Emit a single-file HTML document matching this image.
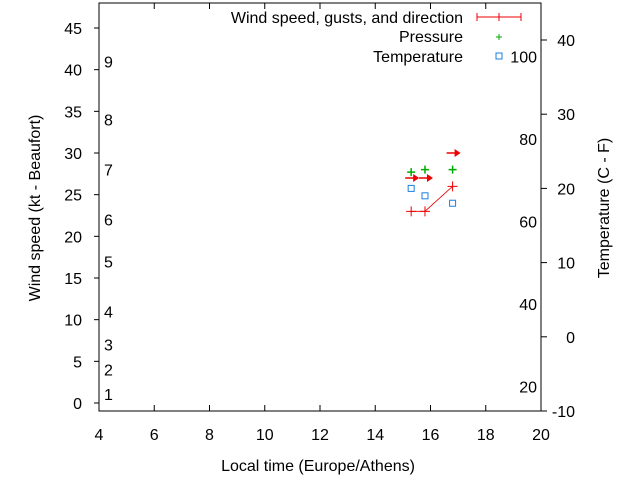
<!DOCTYPE html>
<html><head><meta charset="utf-8"><style>
body{margin:0;background:#fff}
svg{display:block;font-family:"Liberation Sans",sans-serif;font-size:16px}
</style></head><body>
<svg id="c" width="640" height="480" xmlns="http://www.w3.org/2000/svg"></svg>
<script>
const xTicks=[4,6,8,10,12,14,16,18,20];
const windTicks=[0,5,10,15,20,25,30,35,40,45];
const tempTicks=[-10,0,10,20,30,40];
const fLabels=[20,40,60,80,100];
const beaufortLabels=["1","2","3","4","5","6","7","8","9"];
const beaufortVals=[1.1,4,7,11,17,22,28,34,41];
const times=[15.3,15.8,16.8];
const windSpeed=[23,23,26];
const gusts=[27.7,28,28];
const dirSpeed=[27,27,30];
const temps=[20,19,18];

const L=99,R=541,T=3,B=411;
const X=t=>L+(t-4)*(R-L)/16;
const Y=w=>403-w*(375/45);
const YT=c=>B-(c+10)*(371/50);
const YF=f=>YT((f-32)*5/9);
const svg=document.getElementById('c');
function el(tag,a,txt){const e=document.createElementNS('http://www.w3.org/2000/svg',tag);for(const k in a)e.setAttribute(k,a[k]);if(txt!==undefined)e.textContent=txt;svg.appendChild(e);return e;}

let e=el('rect',{x:L,y:T,width:R-L,height:B-T,fill:'none',stroke:'#000','stroke-width':1});


xTicks.forEach(t=>{
  el('line',{x1:X(t),x2:X(t),y1:B,y2:B-6,stroke:'#000'});
  el('line',{x1:X(t),x2:X(t),y1:T,y2:T+6,stroke:'#000'});
  const lb=el('text',{x:X(t),y:440,'text-anchor':'middle'},t);
  
  
});
windTicks.forEach(w=>{
  el('line',{x1:L-5,x2:L,y1:Y(w),y2:Y(w),stroke:'#000'});
  const lb=el('text',{x:82,y:Y(w)+6,'text-anchor':'end'},w);
  
  
});
tempTicks.forEach(c=>{
  el('line',{x1:R,x2:R+6,y1:YT(c),y2:YT(c),stroke:'#000'});
  const lb=el('text',{x:575,y:YT(c)+6,'text-anchor':'end'},c);
  
  
});
fLabels.forEach(f=>{
  const lb=el('text',{x:537,y:YF(f)+6,'text-anchor':'end'},f);
  
  
});
beaufortLabels.forEach((b,i)=>{
  const lb=el('text',{x:104,y:Y(beaufortVals[i])+6},b);
  
  
});
let t1=el('text',{x:318,y:471,'text-anchor':'middle'},'Local time (Europe/Athens)');


let t2=el('text',{x:0,y:0,'text-anchor':'middle',transform:'translate(40,208) rotate(-90)'},'Wind speed (kt - Beaufort)');


let t3=el('text',{x:0,y:0,'text-anchor':'middle',transform:'translate(609,208) rotate(-90)'},'Temperature (C - F)');



// legend
let lg=el('text',{x:463,y:23,'text-anchor':'end'},'Wind speed, gusts, and direction');


el('line',{x1:477,x2:521,y1:17,y2:17,stroke:'#e00'});
el('line',{x1:477,x2:477,y1:13,y2:21,stroke:'#e00'});
el('line',{x1:521,x2:521,y1:13,y2:21,stroke:'#e00'});
el('line',{x1:499,x2:499,y1:13,y2:21,stroke:'#e00'});
let lp=el('text',{x:463,y:42,'text-anchor':'end'},'Pressure');


el('path',{d:'M496,37h6M499,34v6',stroke:'#0a0'});
let lt=el('text',{x:463,y:62,'text-anchor':'end'},'Temperature');


el('rect',{x:496,y:53,width:6,height:6,fill:'none',stroke:'#1a7fe0'});

// wind line
let pts=times.map((t,i)=>X(t)+','+Y(windSpeed[i])).join(' ');
let wl=el('polyline',{points:pts,fill:'none',stroke:'#e00','stroke-width':0.8});


times.forEach((t,i)=>{
  const x=X(t);
  let p=el('path',{d:`M${x-5},${Y(windSpeed[i])}h10M${x},${Y(windSpeed[i])-5}v10`,stroke:'#e00'});
  
  
  let g=el('path',{d:`M${x-4},${Y(gusts[i])}h8M${x},${Y(gusts[i])-4}v8`,stroke:'#0a0','stroke-width':1.5});
  
  
  const yd=Y(dirSpeed[i]);
  let a=el('path',{d:`M${x-6},${yd}h9`,stroke:'#e00','stroke-width':1.5});
  
  
  el('polygon',{points:`${x+2},${yd-4} ${x+8},${yd} ${x+2},${yd+4}`,fill:'#e00'});
  let s=el('rect',{x:x-3,y:YT(temps[i])-3,width:6,height:6,fill:'none',stroke:'#1a7fe0'});
  
  
});
</script>
</body></html>
